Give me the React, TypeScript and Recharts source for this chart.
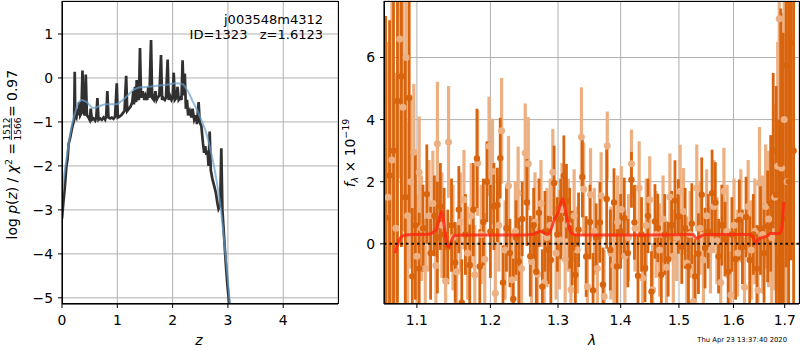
import React from 'react';
import {
  ComposedChart,
  LineChart,
  Line,
  Scatter,
  ErrorBar,
  XAxis,
  YAxis,
  CartesianGrid,
  ReferenceLine
} from 'recharts';

// ---- left panel: log p(z) ----
const zTicks = [0, 1, 2, 3, 4];
const logpTicks = [-5, -4, -3, -2, -1, 0, 1];

// [z, log p(z)] - the spiky template fit
const pzPoints: [number, number][] = [
  [0.0, -3.2], [0.02, -2.9], [0.05, -2.5], [0.08, -2.0], [0.1, -1.85], [0.12, -1.5],
  [0.15, -1.35], [0.18, -1.15], [0.2, -1.05], [0.22, -0.95], [0.23, 0.14], [0.24, -0.85],
  [0.26, -0.9], [0.28, -0.7], [0.3, -0.85], [0.31, -0.55], [0.33, -0.85], [0.35, -0.8],
  [0.37, 0.17], [0.39, -0.75], [0.41, -0.85], [0.43, 0.08], [0.45, -0.85], [0.48, -0.9],
  [0.5, -0.95], [0.52, -0.7], [0.54, -0.95], [0.57, -0.92], [0.6, -0.97], [0.62, -0.9],
  [0.64, -0.46], [0.66, -0.95], [0.69, -0.92], [0.72, -0.95], [0.75, -0.9], [0.78, -0.95],
  [0.8, -0.85], [0.82, -0.3], [0.84, -0.9], [0.87, -0.92], [0.9, -0.9], [0.93, -0.93],
  [0.96, -0.88], [0.99, -0.12], [1.01, -0.9], [1.04, -0.88], [1.07, -0.85], [1.1, -0.8],
  [1.13, -0.75], [1.16, 0.05], [1.18, -0.75], [1.21, -0.7], [1.24, -0.65], [1.27, -0.55],
  [1.29, -0.3], [1.3, -0.6], [1.32, -0.2], [1.34, -0.55], [1.35, -0.05], [1.37, -0.45],
  [1.39, -0.5], [1.41, 0.68], [1.43, -0.45], [1.46, -0.3], [1.49, -0.5], [1.51, -0.4],
  [1.54, -0.5], [1.56, -0.2], [1.58, -0.45], [1.61, 0.86], [1.63, -0.45], [1.66, -0.5],
  [1.69, -0.3], [1.71, -0.5], [1.73, -0.45], [1.76, -0.4], [1.79, 0.52], [1.81, -0.5],
  [1.83, -0.45], [1.86, -0.5], [1.88, -0.45], [1.91, 0.42], [1.93, -0.5], [1.95, -0.4],
  [1.98, -0.5], [2.0, -0.45], [2.02, 0.12], [2.04, -0.5], [2.07, -0.45], [2.09, -0.2],
  [2.11, -0.5], [2.14, -0.45], [2.16, -0.5], [2.18, 0.4], [2.2, -0.4], [2.22, 0.1],
  [2.24, -0.7], [2.26, -0.5], [2.28, -0.85], [2.31, -0.75], [2.34, -0.9], [2.36, -0.7],
  [2.39, -0.95], [2.42, -0.85], [2.44, -1.05], [2.47, -0.55], [2.49, -1.0], [2.52, -1.1],
  [2.55, -1.5], [2.57, -1.7], [2.59, -1.55], [2.61, -1.75], [2.63, -1.65], [2.65, -2.0],
  [2.67, -1.22], [2.69, -2.1], [2.72, -2.3], [2.75, -2.45], [2.78, -2.6], [2.81, -2.85],
  [2.83, -2.98], [2.86, -2.9], [2.88, -1.6], [2.9, -3.0], [2.93, -3.6], [2.96, -4.2],
  [2.99, -4.7], [3.02, -5.1], [3.05, -5.5]
];

// [z, log p(z)] - smoothed curve
const smoothPoints: [number, number][] = [
  [0.0, -2.7], [0.04, -2.2], [0.08, -1.85], [0.12, -1.5], [0.16, -1.2], [0.2, -0.95],
  [0.24, -0.78], [0.28, -0.62], [0.32, -0.53], [0.36, -0.5], [0.4, -0.52], [0.45, -0.55],
  [0.5, -0.62], [0.55, -0.68], [0.6, -0.68], [0.65, -0.65], [0.7, -0.63], [0.8, -0.6],
  [0.9, -0.6], [0.98, -0.6], [1.05, -0.55], [1.12, -0.48], [1.2, -0.38], [1.28, -0.28],
  [1.36, -0.23], [1.45, -0.21], [1.55, -0.2], [1.65, -0.19], [1.75, -0.17], [1.85, -0.16],
  [1.95, -0.14], [2.05, -0.12], [2.15, -0.13], [2.2, -0.16], [2.25, -0.25], [2.3, -0.35],
  [2.35, -0.5], [2.4, -0.62], [2.45, -0.75], [2.5, -0.9], [2.55, -1.05], [2.6, -1.22],
  [2.65, -1.45], [2.7, -1.72], [2.75, -2.02], [2.8, -2.38], [2.85, -2.78], [2.9, -3.3],
  [2.95, -3.95], [3.0, -4.6], [3.05, -5.4]
];

// ---- right panel: spectrum ----
const lamTicks = [1.1, 1.2, 1.3, 1.4, 1.5, 1.6, 1.7];
const fluxTicks = [0, 2, 4, 6];

// [lambda, flux, err]
const darkPoints: [number, number, number][] = [
  [1.06, 0.84, 6.5], [1.065, 2.2, 5.0], [1.07, 3.0, 6.0], [1.075, 4.6, 6.5], [1.08, 5.4, 5.5],
  [1.085, 1.5, 4.5], [1.09, 4.7, 3.8], [1.094, -1.05, 2.2], [1.098, 0.6, 2.4], [1.103, -0.8, 1.8],
  [1.108, 0.5, 1.4], [1.113, 1.6, 1.6], [1.118, -0.3, 1.5], [1.123, 0.9, 1.3], [1.127, 0.2, 1.8],
  [1.131, 1.2, 1.4], [1.136, 0.3, 1.5], [1.141, -0.1, 1.2], [1.146, 0.6, 1.5], [1.151, -0.6, 1.3],
  [1.156, 1.1, 1.4], [1.16, -1.9, 1.4], [1.165, 0.3, 1.3], [1.171, -0.68, 1.3], [1.176, 1.1, 1.5],
  [1.181, 2.75, 1.6], [1.185, -0.73, 1.2], [1.19, 0.7, 1.4], [1.195, 2.0, 1.3], [1.2, 0.4, 1.5],
  [1.205, 1.2, 1.4], [1.21, 1.25, 1.2], [1.214, 2.76, 1.3], [1.218, -1.25, 1.2], [1.223, 0.5, 1.4],
  [1.228, -0.3, 1.1], [1.233, -1.78, 1.3], [1.237, 0.2, 1.2], [1.241, -0.57, 1.4], [1.246, 0.8, 1.2],
  [1.253, 1.33, 1.4], [1.258, -0.4, 1.3], [1.263, 0.6, 1.2], [1.267, -0.9, 1.3], [1.271, 1.0, 1.1],
  [1.276, -1.38, 1.2], [1.28, 0.4, 1.3], [1.285, -0.2, 1.1], [1.289, -0.52, 1.4], [1.294, 1.96, 1.2],
  [1.299, 0.3, 1.2], [1.304, 0.8, 1.3], [1.309, 2.19, 1.3], [1.313, 1.37, 1.2], [1.318, 0.5, 1.3],
  [1.322, -0.14, 1.2], [1.327, -1.0, 1.3], [1.332, 0.45, 1.2], [1.338, 2.15, 1.3], [1.344, -0.41, 1.3],
  [1.35, 0.7, 1.2], [1.355, -1.5, 1.2], [1.36, 0.2, 1.1], [1.366, 0.69, 1.3], [1.371, -1.32, 1.2],
  [1.377, 1.44, 1.6], [1.383, -0.2, 1.3], [1.389, 1.33, 1.1], [1.394, -0.73, 1.2], [1.4, 0.4, 1.2],
  [1.406, 0.83, 1.3], [1.412, -0.3, 1.1], [1.418, 2.06, 0.9], [1.423, 0.69, 1.2], [1.429, -1.03, 1.3],
  [1.435, 0.3, 1.2], [1.441, -0.78, 1.1], [1.446, 0.9, 1.2], [1.452, -1.54, 1.3], [1.458, 0.72, 1.2],
  [1.463, 0.51, 1.1], [1.469, -1.0, 1.2], [1.475, 0.3, 1.3], [1.481, -0.5, 1.2], [1.487, 0.6, 1.1],
  [1.493, 1.39, 1.3], [1.499, 0.88, 1.2], [1.505, -0.09, 1.2], [1.511, 0.5, 1.3], [1.517, -0.73, 1.2],
  [1.523, 0.65, 1.3], [1.529, -1.05, 1.2], [1.535, -0.32, 1.3], [1.541, 1.58, 1.2], [1.547, -0.14, 1.3],
  [1.553, 0.4, 1.2], [1.56, 1.63, 1.4], [1.566, 1.33, 1.3], [1.572, -0.4, 1.2], [1.578, 0.6, 1.3],
  [1.584, 0.15, 1.2], [1.59, -0.9, 1.3], [1.597, 0.3, 1.2], [1.604, -0.5, 1.3], [1.611, 0.77, 1.3],
  [1.617, -0.1, 1.2], [1.624, 0.86, 1.3], [1.631, -0.52, 1.4], [1.638, 0.3, 1.3], [1.645, -0.8, 1.4],
  [1.652, 0.5, 1.5], [1.659, -0.3, 1.6], [1.666, 0.56, 1.8], [1.672, 1.3, 2.2], [1.677, 3.0, 2.5],
  [1.683, 1.58, 3.5], [1.688, -0.5, 4.5], [1.692, 2.58, 5.0], [1.697, 0.8, 6.0], [1.703, 5.74, 6.5],
  [1.708, 2.0, 7.0], [1.713, 6.47, 7.0], [1.718, 3.0, 8.0]
];

const lightPoints: [number, number, number][] = [
  [1.063, 1.5, 5.0], [1.068, 2.7, 5.5], [1.073, 0.5, 5.0], [1.078, 6.6, 4.5], [1.082, 4.4, 4.0],
  [1.086, 6.0, 3.5], [1.088, 0.9, 3.0], [1.092, 2.0, 2.8], [1.096, 2.95, 2.2], [1.1, -0.4, 2.0],
  [1.103, 2.3, 1.8], [1.106, 0.5, 1.7], [1.111, -0.8, 1.6], [1.116, 0.9, 1.8], [1.121, 1.3, 1.7],
  [1.125, -0.7, 1.6], [1.127, 3.22, 2.0], [1.133, 0.6, 1.7], [1.138, -1.2, 1.6], [1.142, 3.28, 1.8],
  [1.148, 0.2, 1.7], [1.153, -0.9, 1.5], [1.158, 0.7, 1.6], [1.163, 1.42, 1.6], [1.168, -0.3, 1.5],
  [1.173, 0.9, 1.7], [1.178, -1.0, 1.6], [1.182, 2.6, 1.7], [1.187, 0.3, 1.6], [1.192, -0.5, 1.5],
  [1.198, 3.14, 1.6], [1.203, 2.33, 1.7], [1.207, -1.59, 1.6], [1.212, 0.6, 1.5], [1.216, 3.64, 1.7],
  [1.221, -0.2, 1.6], [1.226, 1.87, 1.6], [1.231, -1.16, 1.5], [1.236, 0.4, 1.6], [1.24, 1.63, 1.5],
  [1.245, -0.8, 1.4], [1.2505, 2.92, 1.6], [1.255, 2.58, 1.5], [1.26, -0.57, 1.4], [1.265, 0.7, 1.6],
  [1.269, -0.98, 1.5], [1.274, 1.3, 1.4], [1.279, -1.25, 1.5], [1.283, 0.2, 1.6], [1.288, 0.6, 1.5],
  [1.292, 2.3, 1.4], [1.297, -0.3, 1.5], [1.302, 0.13, 1.6], [1.306, 1.1, 1.5], [1.311, -0.5, 1.4],
  [1.316, 0.6, 1.5], [1.32, -1.48, 1.4], [1.325, 0.9, 1.5], [1.33, -0.2, 1.4], [1.3365, 3.44, 1.6],
  [1.34, 1.76, 1.5], [1.346, -1.38, 1.4], [1.351, 1.58, 1.5], [1.357, 0.4, 1.4], [1.362, -0.8, 1.5],
  [1.368, 1.55, 1.4], [1.373, -1.7, 1.5], [1.378, 3.16, 1.1], [1.384, -0.3, 1.5], [1.389, -0.7, 1.4],
  [1.395, 0.7, 1.5], [1.401, 1.1, 1.4], [1.407, -0.4, 1.5], [1.413, 0.2, 1.4], [1.418, 2.58, 1.1],
  [1.424, 0.5, 1.4], [1.431, 1.8, 1.5], [1.437, -1.1, 1.4], [1.443, 0.6, 1.5], [1.449, 1.42, 1.4],
  [1.454, -1.48, 1.5], [1.46, 0.3, 1.4], [1.466, -0.2, 1.5], [1.472, 0.8, 1.4], [1.478, -0.76, 1.5],
  [1.484, 1.51, 1.4], [1.49, -0.4, 1.5], [1.496, 0.2, 1.4], [1.502, 1.69, 1.5], [1.508, 1.04, 1.4],
  [1.514, -0.62, 1.5], [1.52, 0.3, 1.4], [1.526, -1.86, 1.5], [1.532, 1.8, 1.4], [1.538, 0.5, 1.5],
  [1.544, -0.52, 1.4], [1.55, 0.9, 1.5], [1.557, -0.2, 1.4], [1.563, 1.2, 1.5], [1.569, 0.1, 1.4],
  [1.576, -1.25, 1.5], [1.582, 1.69, 1.4], [1.588, 0.4, 1.5], [1.595, -1.65, 1.4], [1.601, 0.6, 1.5],
  [1.608, -0.3, 1.4], [1.614, 0.9, 1.5], [1.621, -1.4, 1.6], [1.628, 1.2, 1.5], [1.634, -0.2, 1.6],
  [1.641, 0.4, 1.7], [1.647, -1.5, 1.8], [1.65, 1.96, 1.8], [1.656, 0.3, 1.9], [1.662, 1.2, 2.0],
  [1.668, 0.8, 2.2], [1.674, 0.2, 2.5], [1.68, 1.5, 3.0], [1.686, 2.5, 4.0], [1.689, 7.25, 5.0],
  [1.694, 2.44, 5.0], [1.699, 4.0, 6.0], [1.705, 2.0, 7.0]
];

// [lambda, flux] best-fit template
const modelPoints: [number, number][] = [
  [1.072, -0.3], [1.076, 0.05], [1.08, 0.22], [1.085, 0.28], [1.095, 0.3], [1.105, 0.3],
  [1.115, 0.31], [1.122, 0.38], [1.126, 0.48], [1.13, 0.85], [1.133, 1.05], [1.136, 0.6],
  [1.139, 0.1], [1.142, -0.1], [1.146, 0.1], [1.15, 0.27], [1.16, 0.28], [1.2, 0.28],
  [1.24, 0.28], [1.26, 0.3], [1.268, 0.36], [1.273, 0.4], [1.278, 0.36], [1.283, 0.3],
  [1.288, 0.4], [1.293, 0.7], [1.3, 1.0], [1.307, 1.45], [1.312, 1.0], [1.317, 0.55],
  [1.322, 0.32], [1.328, 0.28], [1.4, 0.28], [1.5, 0.29], [1.525, 0.3], [1.531, 0.18],
  [1.537, 0.22], [1.545, 0.29], [1.56, 0.3], [1.6, 0.3], [1.63, 0.3], [1.638, 0.2],
  [1.643, 0.0], [1.648, 0.15], [1.655, 0.2], [1.665, 0.25], [1.672, 0.33], [1.69, 0.33],
  [1.694, 0.5], [1.698, 1.35]
];

const pzData = pzPoints.map(([z, v]) => ({ z, v }));
const smoothData = smoothPoints.map(([z, v]) => ({ z, v }));
const darkData = darkPoints.map(([lam, flux, err]) => ({ lam, flux, err }));
const lightData = lightPoints.map(([lam, flux, err]) => ({ lam, flux, err }));
const modelData = modelPoints.map(([lam, flux]) => ({ lam, flux }));

const FONT = "'DejaVu Sans', sans-serif";
const DARK = '#d9640e';
const LIGHT = '#ecb082';
const GRID = '#b0b0b0';
const tickStyle = { fill: '#000', fontSize: 13.9, fontFamily: FONT };
const fmtMinus = (v: number) => String(v).replace('-', '\u2212');
const LAM_DOMAIN: [number, number] = [1.058, 1.729];
const FLUX_DOMAIN: [number, number] = [-1.94, 7.82];
const SPEC_MARGIN = { top: 1, left: 384, right: 1, bottom: 46 };

const dot = (color: string, r: number) => (p: any) =>
  <circle cx={p.cx} cy={p.cy} r={r} fill={color} />;
const noDot = () => <g />;

const frame = (left: number, width: number): React.CSSProperties => ({
  position: 'absolute', left, top: 1, width, height: 303,
  border: '1px solid #000', boxSizing: 'border-box', pointerEvents: 'none'
});

// wraps a data-only chart so that everything is cut at the plot box
const Clipped = ({ children }: { children: React.ReactNode }) => (
  <div style={{ position: 'absolute', left: 384, top: 1, width: 415, height: 303, overflow: 'hidden' }}>
    <div style={{ position: 'absolute', left: -384, top: -1 }}>{children}</div>
  </div>
);

export default function App() {
  return (
    <div style={{ position: 'absolute', left: 0, top: 0, width: 800, height: 350, background: '#fff', fontFamily: FONT }}>
      {/* left panel */}
      <div style={{ position: 'absolute', left: 0, top: 0 }}>
        <LineChart width={800} height={350} margin={{ top: 1, left: 12, right: 462, bottom: 16 }}>
          <CartesianGrid stroke={GRID} strokeWidth={1} />
          <XAxis type="number" dataKey="z" domain={[0, 4.99]} ticks={zTicks} allowDataOverflow
            height={30} tick={tickStyle} tickSize={4} tickMargin={7} stroke="#000" />
          <YAxis type="number" domain={[-5.14, 1.75]} ticks={logpTicks} allowDataOverflow
            width={50} tick={tickStyle} tickSize={4} tickMargin={5} stroke="#000" tickFormatter={fmtMinus} />
          <Line data={pzData} dataKey="v" type="linear" stroke="#303030" strokeWidth={2.7}
            dot={false} isAnimationActive={false} />
          <Line data={smoothData} dataKey="v" type="monotone" stroke="#6a9fcf" strokeWidth={2}
            strokeOpacity={0.7} dot={false} isAnimationActive={false} />
        </LineChart>
      </div>

      {/* right panel: axes and grid only */}
      <div style={{ position: 'absolute', left: 0, top: 0 }}>
        <ComposedChart width={800} height={350} margin={{ top: 1, left: 334, right: 1, bottom: 16 }}>
          <CartesianGrid stroke={GRID} strokeWidth={1} />
          <XAxis type="number" dataKey="lam" scale="log" domain={LAM_DOMAIN} ticks={lamTicks}
            allowDataOverflow height={30} tick={tickStyle} tickSize={4} tickMargin={7} stroke="#000"
            tickFormatter={(v: number) => v.toFixed(1)} />
          <YAxis type="number" domain={FLUX_DOMAIN} ticks={fluxTicks} allowDataOverflow
            width={50} tick={tickStyle} tickSize={4} tickMargin={5} stroke="#000" />
          <Scatter data={darkData} dataKey="flux" shape={noDot} isAnimationActive={false} />
        </ComposedChart>
      </div>

      {/* right panel: measured points */}
      <Clipped>
        <ComposedChart width={800} height={350} margin={SPEC_MARGIN}>
          <XAxis hide type="number" dataKey="lam" scale="log" domain={LAM_DOMAIN} allowDataOverflow />
          <YAxis hide type="number" domain={FLUX_DOMAIN} allowDataOverflow />
          <Scatter data={lightData} dataKey="flux" shape={dot(LIGHT, 3.5)} isAnimationActive={false}>
            <ErrorBar dataKey="err" direction="y" width={0} stroke={LIGHT} strokeWidth={3.2} />
          </Scatter>
          <Scatter data={darkData} dataKey="flux" shape={dot(DARK, 3.2)} isAnimationActive={false}>
            <ErrorBar dataKey="err" direction="y" width={0} stroke={DARK} strokeWidth={2.8} />
          </Scatter>
        </ComposedChart>
      </Clipped>

      {/* right panel: model and zero line on top */}
      <Clipped>
        <ComposedChart width={800} height={350} margin={SPEC_MARGIN}>
          <XAxis hide type="number" dataKey="lam" scale="log" domain={LAM_DOMAIN} allowDataOverflow />
          <YAxis hide type="number" domain={FLUX_DOMAIN} allowDataOverflow />
          <Line data={modelData} dataKey="flux" type="monotone" stroke="#ff2410" strokeWidth={3}
            strokeOpacity={0.8} dot={false} isAnimationActive={false} />
          <ReferenceLine y={0} stroke="#111" strokeWidth={2} strokeDasharray="2.5 3" />
        </ComposedChart>
      </Clipped>

      <div style={frame(62, 277)} />
      <div style={frame(384, 416)} />

      {/* labels */}
      <svg width={800} height={350} style={{ position: 'absolute', left: 0, top: 0, pointerEvents: 'none' }}
        fontFamily={FONT} fill="#000">
        <text x={323} y={24} fontSize={13} textAnchor="end">j003548m4312</text>
        <text x={323} y={39} fontSize={13} textAnchor="end" xmlSpace="preserve">ID=1323   z=1.6123</text>

        <g transform="translate(17,240) rotate(-90)" fontSize={13.9}>
          <text x={97} y={0} textAnchor="end">
            log <tspan fontStyle="italic">p</tspan>(<tspan fontStyle="italic">z</tspan>) / <tspan fontStyle="italic">χ</tspan>
            <tspan dy={-5} fontSize={9.5}>2</tspan><tspan dy={5}> =</tspan>
          </text>
          <text x={111} y={-7.5} fontSize={9} textAnchor="middle">1512</text>
          <line x1={100} x2={122} y1={-5.6} y2={-5.6} stroke="#000" strokeWidth={0.8} />
          <text x={111} y={3.5} fontSize={9} textAnchor="middle">1566</text>
          <text x={123} y={0}>= 0.97</text>
        </g>

        <g transform="translate(355,153) rotate(-90)" fontSize={13.9}>
          <text x={0} y={0} textAnchor="middle">
            <tspan fontStyle="italic">f</tspan><tspan dy={3} fontSize={9.5} fontStyle="italic">λ</tspan>
            <tspan dy={-3}> × 10</tspan><tspan dy={-6} fontSize={9.5}>−19</tspan>
          </text>
        </g>

        <text x={199} y={345} fontSize={13.9} fontStyle="italic" textAnchor="middle">z</text>
        <text x={592} y={345} fontSize={13.9} fontStyle="italic" textAnchor="middle">λ</text>
        <text x={787} y={342} fontSize={6.8} textAnchor="end">Thu Apr 23 13:37:40 2020</text>
      </svg>
    </div>
  );
}
